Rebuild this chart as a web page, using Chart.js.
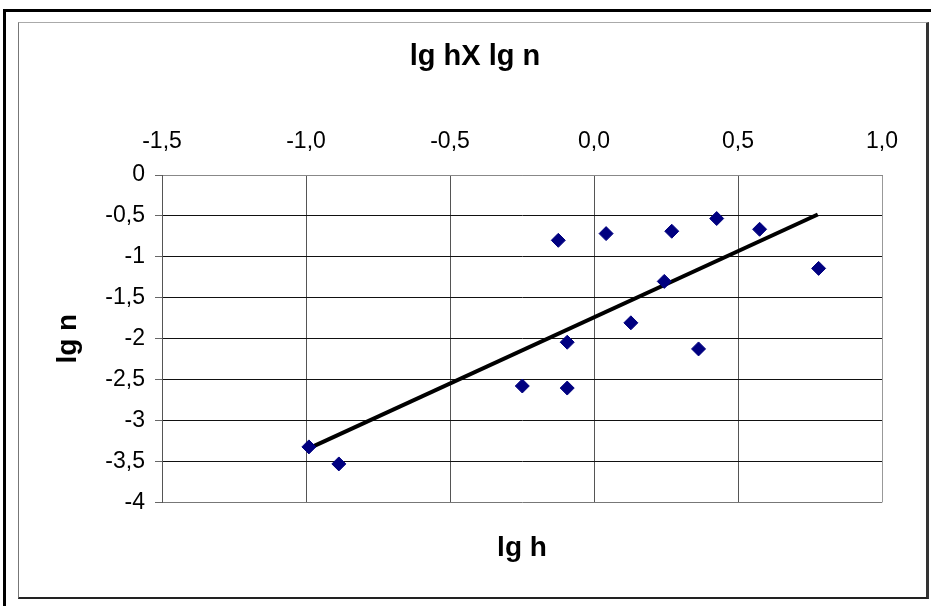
<!DOCTYPE html>
<html>
<head>
<meta charset="utf-8">
<script src="https://cdn.jsdelivr.net/npm/chart.js@4/dist/chart.umd.min.js"></script>
<style>
	html, body { margin: 0; padding: 0; background: #fff; overflow: hidden; width: 931px; height: 606px; }
	#outer { position: absolute; left: 3px; top: 9px; width: 940px; height: 610px; border-top: 3px solid #000; border-left: 3px solid #000; }
	#inner { position: absolute; left: 18px; top: 22px; width: 907px; height: 574px; border-top: 1px solid #aaa; border-left: 1px solid #777; border-right: 3px solid #333; border-bottom: 2px solid #222; }
	#chartBox { position: absolute; left: 0; top: 0; width: 950px; height: 606px; }
</style>
</head>
<body>
<div id="outer"></div>
<div id="inner"></div>
<div id="chartBox"><canvas id="canvasLg" width="950" height="606"></canvas></div>
<script>
"use strict"

// measured points
const lgH = [-0.99, -0.886, -0.249, -0.124, -0.093, -0.093, 0.042, 0.128, 0.244, 0.27, 0.363, 0.426, 0.575, 0.78]
const lgN = [-3.322, -3.53, -2.578, -0.798, -2.043, -2.603, -0.716, -1.806, -1.30, -0.687, -2.125, -0.532, -0.663, -1.141]

// trend line end points
const trendH = [-0.99, 0.777]
const trendN = [-3.34, -0.483]

// axes
const xTicks = [-1.5, -1.0, -0.5, 0.0, 0.5, 1.0]
const yTicks = [0, -0.5, -1, -1.5, -2, -2.5, -3, -3.5, -4]

const fontFamily = "'Liberation Sans', Arial, sans-serif"

function ToPoints(xs, ys) {
	return xs.map(function (x, i) { return { x: x, y: ys[i] } })
}

function CommaLabel(value, digits) {
	return value.toFixed(digits).replace('.', ',')
}

const context = document.getElementById('canvasLg').getContext('2d')
const myChart = new Chart(context, {
	type: 'scatter',
	data: {
		datasets: [{
			label: 'lg n',
			data: ToPoints(lgH, lgN),
			pointStyle: 'rectRot',
			pointRadius: 7,
			backgroundColor: '#000080',
			borderColor: '#000080',
			borderWidth: 1
		}, {
			label: 'trend',
			type: 'line',
			data: ToPoints(trendH, trendN),
			borderColor: '#000',
			borderWidth: 4,
			pointRadius: 0
		}]
	},
	options: {
		responsive: false,
		animation: false,
		layout: { padding: { left: 0, right: 0, top: 0, bottom: 0 } },
		plugins: {
			legend: { display: false },
			tooltip: { enabled: false },
			title: {
				display: true,
				text: 'lg hX lg n',
				color: '#000',
				font: { family: fontFamily, size: 29, weight: 'bold' },
				padding: { top: 39.6, bottom: 10 }
			},
			subtitle: {
				display: true,
				position: 'bottom',
				fullSize: false,
				text: 'lg h',
				color: '#000',
				font: { family: fontFamily, size: 28, weight: 'bold' },
				padding: { top: 29, bottom: 41 }
			}
		},
		scales: {
			x: {
				type: 'linear',
				position: 'top',
				min: xTicks[0],
				max: xTicks[xTicks.length - 1],
				afterBuildTicks: function (scale) {
					scale.ticks = xTicks.map(function (v) { return { value: v } })
				},
				afterFit: function (scale) { scale.height = 90.6 },
				ticks: {
					color: '#000',
					font: { family: fontFamily, size: 23 },
					padding: 20,
					maxRotation: 0,
					callback: function (value) { return CommaLabel(value, 1) }
				},
				grid: {
					color: function (ctx) { return ctx.tick && ctx.tick.value === 1 ? '#999' : '#555' },
					drawTicks: false
				},
				border: { color: '#888', width: 1 }
			},
			y: {
				type: 'linear',
				position: 'left',
				min: -4,
				max: 0,
				afterBuildTicks: function (scale) {
					scale.ticks = yTicks.map(function (v) { return { value: v } })
				},
				afterFit: function (scale) { scale.width = 162 },
				ticks: {
					color: '#000',
					font: { family: fontFamily, size: 23 },
					padding: 10,
					callback: function (value) {
						return Number.isInteger(value) ? String(value) : CommaLabel(value, 1)
					}
				},
				grid: {
					color: function (ctx) {
						if (!ctx.tick) return '#111'
						return ctx.tick.value === -4 || ctx.tick.value === 0 ? '#777' : '#111'
					},
					tickColor: '#666',
					tickLength: 7
				},
				border: { color: '#555', width: 1 },
				title: {
					display: true,
					text: 'lg n',
					color: '#000',
					font: { family: fontFamily, size: 28, weight: 'bold' },
					padding: { top: 51, bottom: 0 }
				}
			},
			// empty right scale, keeps the title centred like the original
			yRight: {
				type: 'linear',
				position: 'right',
				min: -4,
				max: 0,
				afterFit: function (scale) { scale.width = 68 },
				ticks: { display: false },
				grid: { display: false },
				border: { display: false }
			}
		}
	}
})
</script>
</body>
</html>
